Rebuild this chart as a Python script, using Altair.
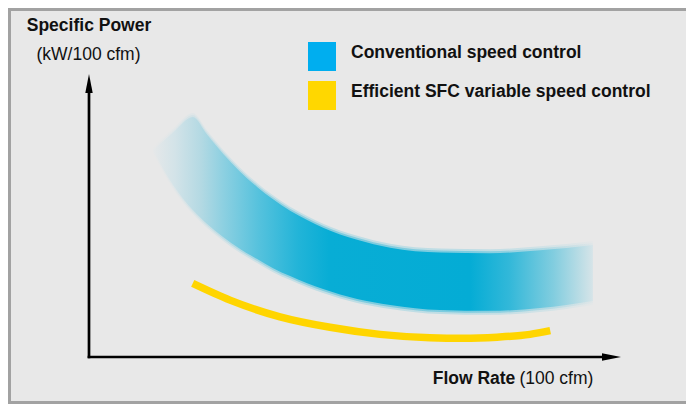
import altair as alt
import pandas as pd

# ---- data (arbitrary units, 0-100 on both axes) ----
# Conventional speed control: a broad band (upper and lower edge)
band_flow = [12.0, 15.8, 19.5, 22.2, 25.2, 28.4, 31.6, 34.6, 37.8, 41.0, 44.0,
             50.4, 56.6, 66.0, 75.4, 84.8, 94.7]
band_upper = [73.1, 79.3, 84.8, 78.6, 71.8, 65.5, 60.1, 55.7, 51.7, 48.4, 45.7,
              41.4, 38.6, 36.9, 36.7, 37.7, 39.6]
band_lower = [73.1, 60.8, 51.9, 47.0, 42.4, 38.2, 34.6, 31.4, 28.6, 26.1, 24.0,
              20.5, 18.4, 16.6, 16.3, 17.3, 19.8]

# Efficient SFC variable speed control curve
sfc_flow = [19.5, 26.5, 35.9, 45.3, 54.7, 64.1, 70.3, 76.7, 82.9, 86.7]
sfc_power = [26.0, 20.1, 14.2, 10.5, 8.0, 6.8, 6.6, 7.0, 8.0, 9.3]

legend_labels = ["Conventional speed control", "Efficient SFC variable speed control"]
legend_colors = ["#00AEEF", "#FFD700"]
y_title = ["Specific Power", "(kW/100 cfm)"]
x_title = ["Flow Rate", "(100 cfm)"]
axis_range = [0, 100]

FONT = "Liberation Sans, Arial, Helvetica, sans-serif"
BLUE = "#04ACD5"
YELLOW = "#FFD500"

xs = alt.Scale(domain=axis_range, nice=False, zero=False)
ys = alt.Scale(domain=axis_range, nice=False, zero=False)

band_df = pd.DataFrame({"flow": band_flow, "upper": band_upper, "lower": band_lower})
sfc_df = pd.DataFrame({"flow": sfc_flow, "power": sfc_power})
one = pd.DataFrame({"k": [0]})

stops = [
    (0.00, "#e6e8e9"),
    (0.05, "#d3e3e8"),
    (0.11, "#b3d9e3"),
    (0.16, "#8dd0e1"),
    (0.24, "#56c2dd"),
    (0.33, "#22b4d8"),
    (0.40, "#08add5"),
    (0.72, BLUE),
    (0.81, "#32b8d9"),
    (0.91, "#81cddf"),
    (1.00, "#d6e4e8"),
]
grad = alt.LinearGradient(
    gradient="linear", x1=0, x2=1, y1=0, y2=0,
    stops=[alt.GradientStop(offset=o, color=c) for o, c in stops],
)


def band(opacity, off):
    return alt.Chart(band_df).mark_area(
        color=grad, opacity=opacity, interpolate="monotone",
        yOffset=-off, y2Offset=off,
    ).encode(
        x=alt.X("flow:Q", scale=xs, axis=None),
        y=alt.Y("upper:Q", scale=ys, axis=None),
        y2="lower:Q",
    )


sfc = alt.Chart(sfc_df).mark_line(
    color=YELLOW, strokeWidth=7.5, interpolate="monotone", strokeCap="butt"
).encode(
    x=alt.X("flow:Q", scale=xs, axis=None),
    y=alt.Y("power:Q", scale=ys, axis=None),
)

# axes with arrows
y_axis = alt.Chart(one).mark_rule(color="black", strokeWidth=2.7, strokeCap="square").encode(
    x=alt.X(datum=axis_range[0], scale=xs, axis=None),
    y=alt.Y(datum=axis_range[0], scale=ys, axis=None),
    y2=alt.Y2(datum=96),
)
x_axis = alt.Chart(one).mark_rule(color="black", strokeWidth=2.7, strokeCap="square").encode(
    x=alt.X(datum=axis_range[0], scale=xs, axis=None),
    x2=alt.X2(datum=97),
    y=alt.Y(datum=axis_range[0], scale=ys, axis=None),
)
y_arrow = alt.Chart(one).mark_point(
    shape="M0,-1L0.39,1L-0.39,1Z", size=361, filled=True, color="black",
    opacity=1, strokeWidth=0, yOffset=9.5,
).encode(
    x=alt.X(datum=axis_range[0], scale=xs, axis=None),
    y=alt.Y(datum=axis_range[1], scale=ys, axis=None),
)
x_arrow = alt.Chart(one).mark_point(
    shape="M1,0L-1,0.39L-1,-0.39Z", size=361, filled=True, color="black",
    opacity=1, strokeWidth=0, xOffset=-9.5,
).encode(
    x=alt.X(datum=axis_range[1], scale=xs, axis=None),
    y=alt.Y(datum=axis_range[0], scale=ys, axis=None),
)


def txt(label, x, y, weight, align="left", size=17.5):
    return alt.Chart(pd.DataFrame({"t": [label]})).mark_text(
        align=align, baseline="alphabetic", font=FONT, fontSize=size,
        fontWeight=weight, color="#111111",
    ).encode(x=alt.value(x), y=alt.value(y), text="t:N")


def square(color, y0, y1):
    return alt.Chart(one).mark_rect(color=color).encode(
        x=alt.value(219), x2=alt.value(247), y=alt.value(y0), y2=alt.value(y1)
    )


def border(**enc):
    return alt.Chart(one).mark_rule(color="#a2a2a2", strokeWidth=3).encode(**enc)


layers = [
    border(x=alt.value(-79.5), y=alt.value(-66), y2=alt.value(330)),
    border(y=alt.value(-64.5), x=alt.value(-81), x2=alt.value(597)),
    border(y=alt.value(328.5), x=alt.value(-81), x2=alt.value(597)),
    band(0.18, 4),
    band(0.35, 2),
    band(1.0, 0),
    sfc,
    y_axis, x_axis, y_arrow, x_arrow,
    txt(y_title[0], 0, -43, "bold", align="center"),
    txt(y_title[1], -0.5, -14, "normal", align="center"),
    txt(x_title[0], 343.7, 310.3, "bold"),
    txt(x_title[1], 504.3, 310.3, "normal", align="right"),
    square(legend_colors[0], -32, -3),
    square(legend_colors[1], 7, 36),
    txt(legend_labels[0], 262, -16, "bold"),
    txt(legend_labels[1], 262, 23, "bold"),
]

chart = alt.layer(*layers).properties(
    width=532,
    height=283,
    padding={"left": 81, "top": 66, "right": 65, "bottom": 47},
    autosize=alt.AutoSizeParams(type="none"),
    background="#e8e8e8",
).configure_view(strokeWidth=0)

chart.save("out.html", embed_options={"renderer": "svg", "actions": False})
